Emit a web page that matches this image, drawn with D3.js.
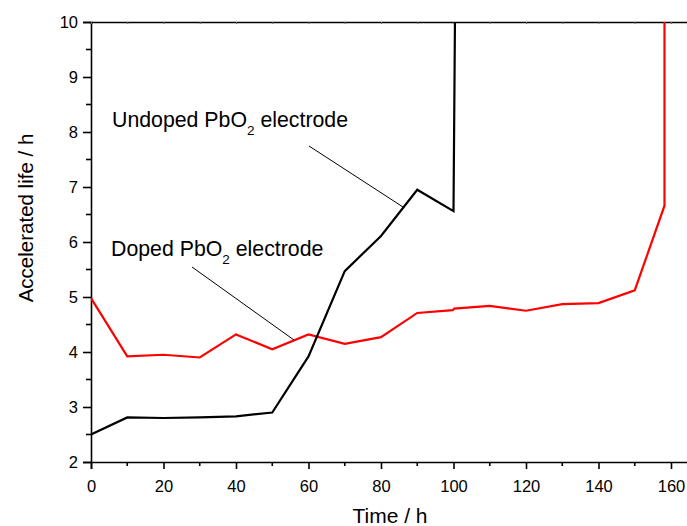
<!DOCTYPE html>
<html><head><meta charset="utf-8">
<script src="https://cdn.jsdelivr.net/npm/d3@7"></script>
<style>
body{margin:0;background:#fff;}
svg{display:block;font-family:"Liberation Sans",Arial,sans-serif;}
</style></head>
<body>
<svg id="chart" width="687" height="526"></svg>
<script>
// Data
const undopedTime = [0, 10, 20, 30, 40, 50, 60, 70, 80, 90, 100, 100.4];
const undopedLife = [2.5, 2.81, 2.8, 2.81, 2.83, 2.9, 3.92, 5.47, 6.11, 6.95, 6.56, 10];
const dopedTime = [0, 10, 20, 30, 40, 50, 60, 70, 80, 90, 99.8, 100.2, 110, 120, 130, 140, 150, 158.2, 158.2];
const dopedLife = [4.98, 3.92, 3.95, 3.9, 4.32, 4.05, 4.32, 4.15, 4.27, 4.71, 4.76, 4.79, 4.84, 4.75, 4.87, 4.89, 5.12, 6.66, 10];
const xTicks = [0, 20, 40, 60, 80, 100, 120, 140, 160];
const yTicks = [2, 3, 4, 5, 6, 7, 8, 9, 10];

const svg = d3.select("#chart");
const x = d3.scaleLinear().domain([0, 170]).range([91, 91 + 170 * 3.625]);
const y = d3.scaleLinear().domain([2, 10]).range([462, 22]);

svg.append("defs").append("clipPath").attr("id", "clip")
  .append("rect").attr("x", 91).attr("y", 21).attr("width", 700).attr("height", 442);

const xMinor = d3.range(0, 171, 10).filter(v => v % 20 !== 0);
const yMinor = d3.range(2.5, 10, 1);

const gx = svg.append("g").attr("transform", "translate(0,462)");
gx.call(d3.axisBottom(x).tickValues(xTicks).tickSize(7).tickPadding(11).tickFormat(d3.format("d")));
gx.selectAll(".domain").attr("stroke", "#000").attr("stroke-width", 1.6);
gx.selectAll(".tick line").attr("stroke-width", 1.6);
gx.selectAll("text").attr("font-size", 16.5).attr("fill", "#000").attr("font-family", "Liberation Sans, Arial, sans-serif");
gx.selectAll(".minor").data(xMinor).enter().append("line")
  .attr("x1", d => x(d)).attr("x2", d => x(d)).attr("y1", 0).attr("y2", 4)
  .attr("stroke", "#000").attr("stroke-width", 1.6);

const gy = svg.append("g").attr("transform", "translate(91,0)");
gy.call(d3.axisLeft(y).tickValues(yTicks).tickSize(8).tickPadding(5).tickFormat(d3.format("d")));
gy.selectAll(".domain").attr("stroke", "#000").attr("stroke-width", 1.6);
gy.selectAll(".tick line").attr("stroke-width", 1.6);
gy.selectAll("text").attr("font-size", 16.5).attr("fill", "#000").attr("font-family", "Liberation Sans, Arial, sans-serif");
gy.selectAll(".minor").data(yMinor).enter().append("line")
  .attr("x1", 0).attr("x2", -5).attr("y1", d => y(d)).attr("y2", d => y(d))
  .attr("stroke", "#000").attr("stroke-width", 1.6);

// Top axis
const gt = svg.append("g").attr("transform", "translate(0,22)");
gt.call(d3.axisTop(x).tickValues(d3.range(0, 171, 10)).tickSize(-2).tickFormat(""));
gt.selectAll(".domain").attr("stroke", "#000").attr("stroke-width", 1.6);
gt.selectAll(".tick line").attr("stroke", "#666").attr("stroke-width", 1);

// Lines
const line = d3.line().x(d => x(d[0])).y(d => y(d[1]));
const plot = svg.append("g").attr("clip-path", "url(#clip)");
plot.append("path").datum(dopedTime.map((t, i) => [t, dopedLife[i]]))
  .attr("d", line).attr("fill", "none").attr("stroke", "#ff0000").attr("stroke-width", 2.2).attr("stroke-linejoin", "miter");
plot.append("path").datum(undopedTime.map((t, i) => [t, undopedLife[i]]))
  .attr("d", line).attr("fill", "none").attr("stroke", "#000").attr("stroke-width", 2.2).attr("stroke-linejoin", "miter");

// Annotations
function label(tx, ty, before, after) {
  const t = svg.append("text").attr("x", tx).attr("y", ty).attr("font-size", 21.3).attr("fill", "#000");
  t.append("tspan").text(before);
  t.append("tspan").attr("font-size", 13.5).attr("dy", 8).text("2");
  t.append("tspan").attr("dy", -8).text(after);
}
label(112, 127, "Undoped PbO", " electrode");
label(111, 256, "Doped PbO", " electrode");
svg.append("line").attr("x1", 309).attr("y1", 146).attr("x2", 403).attr("y2", 207).attr("stroke", "#000").attr("stroke-width", 1);
svg.append("line").attr("x1", 192).attr("y1", 267).attr("x2", 294).attr("y2", 340).attr("stroke", "#000").attr("stroke-width", 1);

// Axis titles
svg.append("text").attr("x", 390).attr("y", 523).attr("text-anchor", "middle")
  .attr("font-size", 21).attr("fill", "#000").text("Time / h");
svg.append("text").attr("transform", "translate(33,218) rotate(-90)").attr("text-anchor", "middle")
  .attr("font-size", 20.5).attr("fill", "#000").text("Accelerated life / h");
</script>
</body></html>
